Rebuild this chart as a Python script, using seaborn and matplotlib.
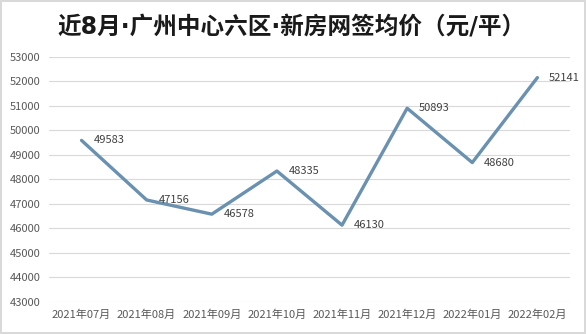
import matplotlib
matplotlib.use("Agg")
import matplotlib.pyplot as plt
import seaborn as sns
import pandas as pd

months = ["2021年07月", "2021年08月", "2021年09月", "2021年10月",
          "2021年11月", "2021年12月", "2022年01月", "2022年02月"]
prices = [49583, 47156, 46578, 48335, 46130, 50893, 48680, 52141]
yticks = list(range(43000, 53001, 1000))

sns.set_theme(style="whitegrid")
plt.rcParams['font.family'] = ['Noto Sans CJK SC', 'DejaVu Sans']

df = pd.DataFrame({"month": months, "price": prices})
df["pos"] = range(len(months))

fig = plt.figure(figsize=(5.86, 3.34), dpi=100)
fig.patch.set_edgecolor("#d9d9d9")
fig.patch.set_linewidth(1.5)
ax = fig.add_axes([0.0836, 0.0958, 0.889, 0.735])

sns.lineplot(data=df, x="pos", y="price", ax=ax, color="#6a91b0", linewidth=2.4)

for x, y in zip(df["pos"], df["price"]):
    ax.annotate(f"{y}", (x, y), xytext=(8.5, 0), textcoords="offset points",
                ha="left", va="center", fontsize=8, color="#404040")

ax.set_xlim(-0.5, len(months) - 0.5)
ax.set_ylim(43000, 53000)
ax.set_yticks(yticks)
ax.set_xticks(range(len(months)))
ax.set_xticklabels(months)
ax.set_xlabel("")
ax.set_ylabel("")
ax.grid(axis="x", visible=False)
ax.grid(axis="y", color="#d9d9d9", linewidth=0.8)
for s in ax.spines.values():
    s.set_visible(False)
ax.tick_params(axis="both", labelsize=8, colors="#595959", length=0)
ax.tick_params(axis="x", pad=5.5)
ax.tick_params(axis="y", pad=6)

fig.text(0.498, 0.92, "近8月·广州中心六区·新房网签均价（元/平）", ha="center", va="center",
         fontsize=17, fontweight="bold", color="#1a1a1a",
         family=['DejaVu Sans', 'Noto Sans CJK SC'])

fig.savefig("out.png", dpi=100)
